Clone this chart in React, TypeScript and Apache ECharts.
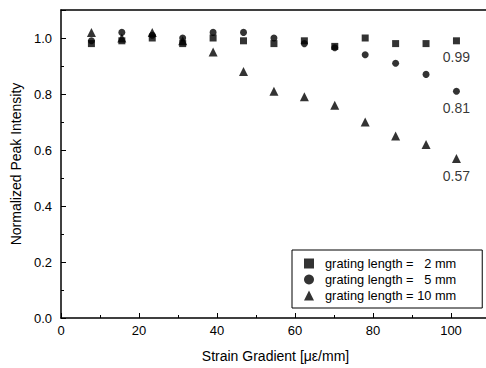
import React, { useEffect, useRef } from "react";
import * as echarts from "echarts";

const strain = [7.8, 15.6, 23.4, 31.2, 39, 46.8, 54.6, 62.4, 70.2, 78, 85.8, 93.6, 101.4];
const len2mm = [0.98, 0.99, 1.0, 0.98, 1.0, 0.99, 0.98, 0.99, 0.97, 1.0, 0.98, 0.98, 0.99];
const len5mm = [0.99, 1.02, 1.01, 1.0, 1.02, 1.02, 1.0, 0.98, 0.965, 0.94, 0.91, 0.87, 0.81];
const len10mm = [1.02, 1.0, 1.02, 0.99, 0.95, 0.88, 0.81, 0.79, 0.76, 0.7, 0.65, 0.62, 0.57];
const seriesNames = ["grating length =   2 mm", "grating length =   5 mm", "grating length = 10 mm"];
const symbols = ["rect", "circle", "triangle"];
const endLabels = ["0.99", "0.81", "0.57"];

const FONT = "Liberation Sans, Arial, sans-serif";

export default function App() {
  const ref = useRef<HTMLDivElement>(null);
  useEffect(() => {
    if (!ref.current) return;
    const chart = echarts.init(ref.current, null, { renderer: "svg" });
    const all = [len2mm, len5mm, len10mm];
    const sizes = [7, 7, 9];
    chart.setOption({
      animation: false,
      backgroundColor: "#fff",
      textStyle: { fontFamily: FONT, color: "#000" },
      grid: { left: 61, top: 10, right: 6, bottom: 48 },
      legend: {
        orient: "vertical",
        left: 292,
        top: 250,
        data: seriesNames,
        backgroundColor: "#fff",
        borderColor: "#000",
        borderWidth: 1,
        padding: [7, 26, 6, 12],
        itemGap: 3,
        itemWidth: 10,
        itemHeight: 10,
        textStyle: { fontFamily: FONT, fontSize: 12.8, color: "#000", padding: [0, 0, 0, 6] },
      },
      xAxis: [
        {
          type: "value",
          min: 0,
          max: 110,
          interval: 20,
          name: "Strain Gradient [με/mm]",
          nameLocation: "middle",
          nameGap: 31,
          nameTextStyle: { fontFamily: FONT, fontSize: 14, color: "#000" },
          axisLine: { lineStyle: { color: "#000", width: 1.5 } },
          axisTick: { inside: true, length: 5, lineStyle: { color: "#000" } },
          minorTick: { show: true, splitNumber: 2, length: 3, lineStyle: { color: "#000" } },
          splitLine: { show: false },
          axisLabel: {
            fontFamily: FONT, fontSize: 13, color: "#000", margin: 6,
            formatter: (v: number) => (v > 100 ? "" : String(v)),
          },
        },
        {
          type: "value",
          position: "top",
          min: 0,
          max: 110,
          interval: 20,
          axisLine: { show: true, lineStyle: { color: "#000", width: 1.5 } },
          axisTick: { show: false },
          axisLabel: { show: false },
          splitLine: { show: false },
        },
      ],
      yAxis: {
        type: "value",
        min: 0,
        max: 1.1,
        interval: 0.2,
        name: "Normalized Peak Intensity",
        nameLocation: "middle",
        nameGap: 38,
        nameTextStyle: { fontFamily: FONT, fontSize: 14, color: "#000" },
        axisLine: { lineStyle: { color: "#000", width: 1.5 } },
        axisTick: { inside: true, length: 5, lineStyle: { color: "#000" } },
        minorTick: { show: true, splitNumber: 2, length: 3, lineStyle: { color: "#000" } },
        splitLine: { show: false },
        axisLabel: {
          fontFamily: FONT, fontSize: 13, color: "#000", margin: 9,
          formatter: (v: number) => (v > 1.05 ? "" : v.toFixed(1)),
        },
      },
      series: all.map((vals, i) => ({
        name: seriesNames[i],
        type: "scatter",
        symbol: symbols[i],
        symbolSize: sizes[i],
        itemStyle: { color: "#000" },
        data: vals.map((v, j) => {
          const pt: any = { value: [strain[j], v] };
          if (j === vals.length - 1) {
            pt.label = {
              show: true,
              position: "bottom",
              distance: 6,
              formatter: endLabels[i],
              fontFamily: FONT,
              fontSize: 14,
              color: "#000",
            };
          }
          return pt;
        }),
      })),
    });
    return () => chart.dispose();
  }, []);
  return (
    <div style={{ position: "absolute", left: 0, top: 0, width: 486, height: 368, overflow: "hidden", background: "#fff" }}>
      <div ref={ref} style={{ width: 496, height: 368 }} />
    </div>
  );
}
